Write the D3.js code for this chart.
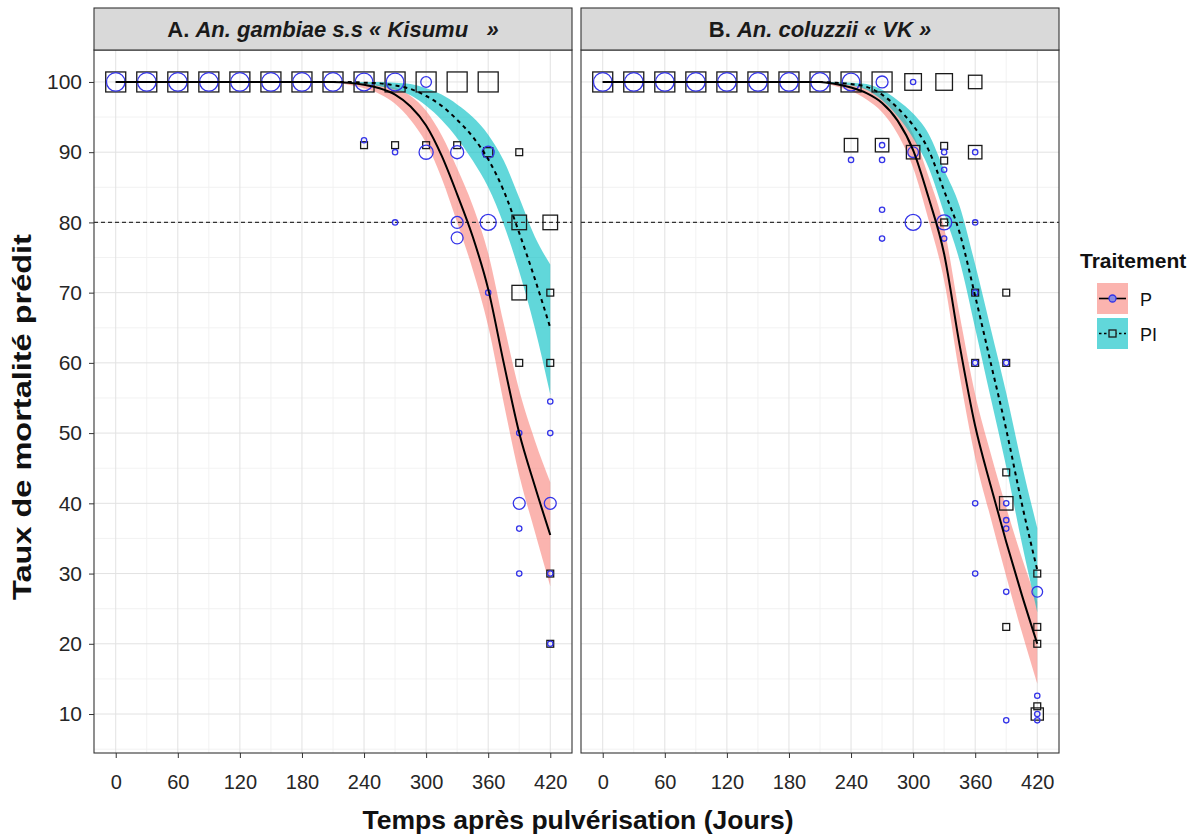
<!DOCTYPE html>
<html><head><meta charset="utf-8">
<script src="https://cdn.jsdelivr.net/npm/d3@7"></script>
<style>body{margin:0;background:#fff} text{font-family:"Liberation Sans",Arial,Helvetica,sans-serif}</style>
</head><body><svg id="chart" width="1198" height="836"></svg>
<script>
// ---------------- DATA ----------------
const xTicks = [0, 60, 120, 180, 240, 300, 360, 420];
const yTicks = [10, 20, 30, 40, 50, 60, 70, 80, 90, 100];
const treatments = ["P", "PI"];
const stripPrefix = ["A. ", "B. "];
const stripSpecies = ["An. gambiae s.s « Kisumu   »", "An. coluzzii « VK »"];
const xTitle = "Temps après pulvérisation (Jours)";
const yTitle = "Taux de mortalité prédit";
const legendTitle = "Traitement";
const threshold = 80;

const curveDays = [0,30,60,90,120,150,180,210,225,240,255,270,285,300,315,330,345,360,375,390,405,420];
// Panel A predictions
const predA_P  = [100,100,100,100,100,100,100,100,99.9,99.6,99.1,98.2,96.5,93.8,89.5,84,78,70.5,60,50,42.5,35.5];
const loA_P    = [100,100,100,100,100,100,100,100,99.6,99.1,98.3,96.9,94.6,91.3,86.3,80,73.3,65.2,54.3,44,36,28.2];
const hiA_P    = [100,100,100,100,100,100,100,100,100,99.9,99.6,99.2,98,95.9,92.4,87.7,82.4,75.6,65.6,56.1,49,43];
const predA_PI = [100,100,100,100,100,100,100,100,100,99.9,99.8,99.5,99,98,96.6,94.6,92.2,89,84.5,78.5,72,65];
const loA_PI   = [100,100,100,100,100,100,100,100,99.9,99.7,99.4,98.9,98.1,96.6,94.6,92,88.8,85,79.7,73,65,55.5];
const hiA_PI   = [100,100,100,100,100,100,100,100,100,100,100,99.9,99.7,99.1,98.2,96.8,95,92.5,88.8,83.5,78,74];
// Panel B predictions
const predB_P  = [100,100,100,100,100,100,100,100,99.7,99.2,98.4,97,94.5,90.3,83.5,75.5,62.5,51,42.5,34.5,27,20];
const loB_P    = [100,100,100,100,100,100,100,100,99.4,98.7,97.5,95.7,92.6,87.8,80.3,71.7,58.2,46.5,37.9,29.6,21.7,14.3];
const hiB_P    = [100,100,100,100,100,100,100,100,99.9,99.6,99.1,98.1,96.2,92.6,86.5,79.2,66.8,55.5,47.1,39.4,32.3,26];
const predB_PI = [100,100,100,100,100,100,100,100,99.9,99.7,99.3,98.2,96.3,93.8,90.3,84.5,78.5,69.5,60,50.5,40,30.5];
const loB_PI   = [100,100,100,100,100,100,100,100,99.8,99.5,98.9,97.4,95.1,92,87.8,81.3,74.5,64.9,55,45.2,34.4,24.5];
const hiB_PI   = [100,100,100,100,100,100,100,100,100,99.9,99.7,98.9,97.4,95.5,92.6,87.5,82.3,74,64.9,55.7,45.6,36.5];

// Observed points: [day, mortality %, number of observations]
const obsA_P = [
 [0,100,12],[30,100,12],[60,100,12],[90,100,12],[120,100,12],[150,100,12],[180,100,12],[210,100,12],[240,100,11],[270,100,11],[300,100,4],
 [240,91.7,1],[270,90,1],[300,90,7],[330,90,6],[360,90,5],
 [270,80,1],[330,80,5],[330,77.8,5],[360,80,9],
 [360,70,1],[390,50,1],[420,54.5,1],[420,50,1],
 [390,40,5],[420,40,5],[390,36.4,1],[390,30,1],[420,30,1],[420,20,1]
];
const obsA_PI = [
 [0,100,12],[30,100,12],[60,100,12],[90,100,12],[120,100,12],[150,100,12],[180,100,12],[210,100,12],[240,100,12],[270,100,12],[300,100,12],[330,100,12],[360,100,12],
 [240,91,1],[270,91,1],[300,91,1],[330,91,1],[360,90,2],[390,90,1],
 [390,80,6],[420,80,6],[390,70,6],[420,70,1],[390,60,1],[420,60,1],[420,30,1],[420,20,1]
];
const obsB_P = [
 [0,100,12],[30,100,12],[60,100,12],[90,100,12],[120,100,12],[150,100,12],[180,100,12],[210,100,12],[240,100,11],[270,100,5],[300,100,1],
 [240,88.9,1],[270,91,1],[270,88.9,1],[300,90,4],[330,90,1],[330,87.5,1],[360,90,1],
 [270,81.8,1],[270,77.7,1],[300,80,9],[330,80,8],[330,77.7,1],[360,80,1],
 [360,70,1],[360,60,1],[390,60,1],
 [360,40,1],[360,30,1],[390,40,1],[390,37.6,1],[390,36.4,1],[390,27.4,1],[420,27.4,4],
 [420,12.6,1],[420,10,1],[390,9.1,1],[420,9.1,1]
];
const obsB_PI = [
 [0,100,12],[30,100,12],[60,100,12],[90,100,12],[120,100,12],[150,100,12],[180,100,12],[210,100,12],[240,100,12],[270,100,12],[300,100,8],[330,100,8],[360,100,5],
 [240,91,5],[270,91,5],[300,90,5],[330,90.9,1],[330,88.8,1],[360,90,5],
 [330,80,1],
 [360,70,1],[390,70,1],[360,60,1],[390,60,1],[390,44.4,1],
 [390,40,5],[420,30,1],[390,22.4,1],[420,22.4,1],[420,20,1],[420,11.1,1],[420,10,4]
];

// ---------------- STYLE / LAYOUT ----------------
const W = 1198, H = 836;
const panelX = [[94, 572], [581, 1059]];
const plotTop = 50, plotBottom = 753, stripTop = 8;
const fillP = "#F8766D", fillPI = "#00BFC4";
const colCircle = "#3434e8", colSquare = "#1a1a1a";
const textCol = "#262626";

const panels = [
  {pred:[predA_P,predA_PI], lo:[loA_P,loA_PI], hi:[hiA_P,hiA_PI], obsP:obsA_P, obsPI:obsA_PI},
  {pred:[predB_P,predB_PI], lo:[loB_P,loB_PI], hi:[hiB_P,hiB_PI], obsP:obsB_P, obsPI:obsB_PI}
];

const svg = d3.select("#chart");
svg.append("rect").attr("width", W).attr("height", H).attr("fill", "#fff");

const y = d3.scaleLinear().domain([4.45, 104.55]).range([plotBottom, plotTop]);
const sz = d3.scaleSqrt().domain([0, 12]).range([0, 18.5]);

const xMinor = [30, 90, 150, 210, 270, 330, 390];
const yMinor = [5, 15, 25, 35, 45, 55, 65, 75, 85, 95];

panels.forEach((p, i) => {
  const x = d3.scaleLinear().domain([-21, 441]).range(panelX[i]);
  const [x0, x1] = panelX[i];
  const g = svg.append("g");
  const clipId = "clip" + i;
  svg.append("clipPath").attr("id", clipId).append("rect")
    .attr("x", x0).attr("y", plotTop).attr("width", x1 - x0).attr("height", plotBottom - plotTop);

  const grid = g.append("g");
  grid.selectAll("line.xm").data(xMinor).join("line")
    .attr("x1", d => x(d)).attr("x2", d => x(d)).attr("y1", plotTop).attr("y2", plotBottom)
    .attr("stroke", "#f0f0f0").attr("stroke-width", 0.9);
  grid.selectAll("line.ym").data(yMinor).join("line")
    .attr("y1", d => y(d)).attr("y2", d => y(d)).attr("x1", x0).attr("x2", x1)
    .attr("stroke", "#f0f0f0").attr("stroke-width", 0.9);
  grid.selectAll("line.xM").data(xTicks).join("line")
    .attr("x1", d => x(d)).attr("x2", d => x(d)).attr("y1", plotTop).attr("y2", plotBottom)
    .attr("stroke", "#e2e2e2").attr("stroke-width", 1);
  grid.selectAll("line.yM").data(yTicks).join("line")
    .attr("y1", d => y(d)).attr("y2", d => y(d)).attr("x1", x0).attr("x2", x1)
    .attr("stroke", "#e2e2e2").attr("stroke-width", 1);

  const inner = g.append("g").attr("clip-path", `url(#${clipId})`);
  [0, 1].forEach(t => {
    const area = d3.area()
      .x((d, j) => x(curveDays[j]))
      .y0((d, j) => y(p.lo[t][j]))
      .y1((d, j) => y(p.hi[t][j]))
      .curve(d3.curveMonotoneX);
    inner.append("path").datum(curveDays).attr("d", area)
      .attr("fill", t === 0 ? fillP : fillPI).attr("fill-opacity", t === 0 ? 0.55 : 0.62);
  });
  inner.append("line").attr("x1", x0).attr("x2", x1).attr("y1", y(threshold)).attr("y2", y(threshold))
    .attr("stroke", "#333").attr("stroke-width", 1.2).attr("stroke-dasharray", "4,3");
  inner.selectAll("rect.pt").data(p.obsPI).join("rect")
    .attr("x", d => x(d[0]) - (sz(d[2]) + 1.5) / 2).attr("y", d => y(d[1]) - (sz(d[2]) + 1.5) / 2)
    .attr("width", d => sz(d[2]) + 1.5).attr("height", d => sz(d[2]) + 1.5)
    .attr("fill", "none").attr("stroke", colSquare).attr("stroke-width", 1.3);
  inner.selectAll("circle.pt").data(p.obsP).join("circle")
    .attr("cx", d => x(d[0])).attr("cy", d => y(d[1])).attr("r", d => sz(d[2]) / 2)
    .attr("fill", "none").attr("stroke", colCircle).attr("stroke-width", 1.3);
  [0, 1].forEach(t => {
    const line = d3.line().x((d, j) => x(curveDays[j])).y((d, j) => y(p.pred[t][j])).curve(d3.curveMonotoneX);
    inner.append("path").datum(curveDays).attr("d", line)
      .attr("fill", "none").attr("stroke", "#000").attr("stroke-width", 2)
      .attr("stroke-dasharray", t === 0 ? null : "4,4");
  });
  g.append("rect").attr("x", x0).attr("y", plotTop).attr("width", x1 - x0).attr("height", plotBottom - plotTop)
    .attr("fill", "none").attr("stroke", "#333").attr("stroke-width", 1.1);
  g.append("rect").attr("x", x0).attr("y", stripTop).attr("width", x1 - x0).attr("height", plotTop - stripTop)
    .attr("fill", "#d9d9d9").attr("stroke", "#333").attr("stroke-width", 1.1);
  const st = g.append("text").attr("x", (x0 + x1) / 2).attr("y", 37).attr("text-anchor", "middle")
    .attr("font-size", 22).attr("font-weight", "bold").attr("fill", "#1a1a1a").style("white-space", "pre");
  st.append("tspan").text(stripPrefix[i]);
  st.append("tspan").attr("font-style", "italic").text(stripSpecies[i]);

  const xa = g.append("g").attr("transform", `translate(0,${plotBottom})`)
    .call(d3.axisBottom(x).tickValues(xTicks).tickSize(5).tickPadding(17).tickFormat(d3.format("d")));
  xa.select(".domain").remove();
  xa.selectAll("line").attr("stroke", "#333");
  xa.selectAll("text").attr("font-size", 20).attr("fill", textCol).attr("font-family", '"Liberation Sans",Arial,sans-serif');

  if (i === 0) {
    const ya = g.append("g").attr("transform", `translate(${x0},0)`)
      .call(d3.axisLeft(y).tickValues(yTicks).tickSize(5).tickPadding(7));
    ya.select(".domain").remove();
    ya.selectAll("line").attr("stroke", "#333");
    ya.selectAll("text").attr("font-size", 21).attr("fill", textCol).attr("font-family", '"Liberation Sans",Arial,sans-serif');
  }
});

svg.append("text").attr("x", 578).attr("y", 829).attr("text-anchor", "middle")
  .attr("font-size", 26.5).attr("font-weight", "bold").attr("fill", "#111").text(xTitle);
svg.append("text").attr("transform", "translate(31,417) rotate(-90) scale(1.3,1)")
  .attr("text-anchor", "middle").attr("font-size", 25).attr("font-weight", "bold").attr("fill", "#111").text(yTitle);

const lg = svg.append("g");
lg.append("text").attr("x", 1080).attr("y", 268).attr("font-size", 21).attr("font-weight", "bold").attr("fill", "#111").text(legendTitle);
treatments.forEach((t, k) => {
  const ky = 283 + k * 35;
  lg.append("rect").attr("x", 1097).attr("y", ky).attr("width", 31).attr("height", 31)
    .attr("fill", k === 0 ? fillP : fillPI).attr("fill-opacity", k === 0 ? 0.55 : 0.62);
  lg.append("line").attr("x1", 1099).attr("x2", 1126).attr("y1", ky + 15.5).attr("y2", ky + 15.5)
    .attr("stroke", "#000").attr("stroke-width", 1.6).attr("stroke-dasharray", k === 0 ? null : "2.5,2.5");
  if (k === 0) {
    lg.append("circle").attr("cx", 1112.5).attr("cy", ky + 15.5).attr("r", 3.5)
      .attr("fill", "#8a8ae0").attr("stroke", colCircle).attr("stroke-width", 1.3);
  } else {
    lg.append("rect").attr("x", 1109).attr("y", ky + 12).attr("width", 7).attr("height", 7)
      .attr("fill", "#6fd8d9").attr("stroke", colSquare).attr("stroke-width", 1.3);
  }
  lg.append("text").attr("x", 1140).attr("y", ky + 23).attr("font-size", 18).attr("fill", "#111").text(t);
});
</script></body></html>
